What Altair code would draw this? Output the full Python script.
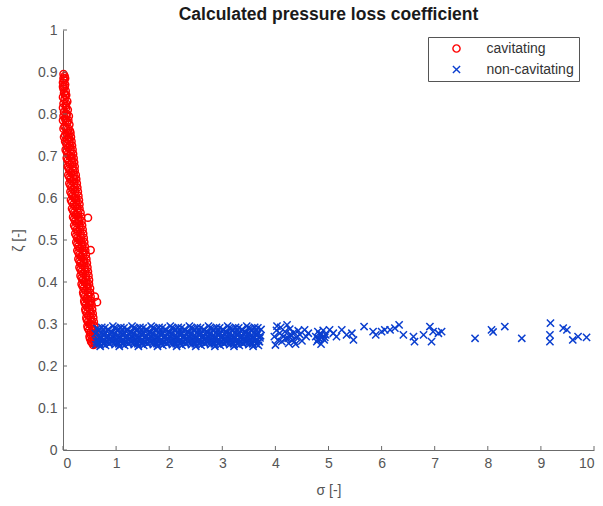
import altair as alt
import pandas as pd

# ---------------- data ----------------
cav_sigma = [
    0.01, 0.03, 0.02, 0.00, 0.04, 0.01, 0.05, 0.02, 0.00, 0.06,
    0.03, 0.08, 0.01, 0.05, 0.09, 0.02, 0.07, 0.11, 0.04, 0.00,
    0.08, 0.12, 0.03, 0.06, 0.13, 0.10, 0.04, 0.15, 0.08, 0.12,
    0.06, 0.17, 0.10, 0.14, 0.07, 0.19, 0.12, 0.16, 0.09, 0.21,
    0.13, 0.18, 0.11, 0.22, 0.15, 0.20, 0.12, 0.25, 0.17, 0.21,
    0.14, 0.27, 0.19, 0.23, 0.16, 0.29, 0.21, 0.25, 0.17, 0.31,
    0.23, 0.27, 0.19, 0.33, 0.24, 0.29, 0.21, 0.47, 0.35, 0.26,
    0.31, 0.23, 0.37, 0.28, 0.33, 0.25, 0.39, 0.30, 0.35, 0.27,
    0.41, 0.32, 0.52, 0.37, 0.29, 0.43, 0.34, 0.39, 0.31, 0.45,
    0.36, 0.41, 0.33, 0.47, 0.38, 0.43, 0.35, 0.49, 0.40, 0.45,
    0.37, 0.51, 0.42, 0.47, 0.39, 0.60, 0.52, 0.44, 0.48, 0.64,
    0.41, 0.54, 0.46, 0.50, 0.43, 0.56, 0.48, 0.52, 0.45, 0.58,
    0.50, 0.54, 0.47, 0.60, 0.52, 0.56, 0.50, 0.62, 0.55, 0.58,
    0.53, 0.61, 0.57, 0.60,
    0.01, 0.04, 0.03, 0.00, 0.04, 0.06, 0.00, 0.06, 0.01, 0.06,
    0.10, 0.05, 0.01, 0.10, 0.14, 0.07, 0.02, 0.11, 0.04, 0.16,
    0.08, 0.13, 0.05, 0.18, 0.09, 0.15, 0.07, 0.20, 0.11, 0.17,
    0.09, 0.22, 0.13, 0.19, 0.10, 0.24, 0.14, 0.21, 0.12, 0.26,
    0.16, 0.22, 0.14, 0.28, 0.18, 0.24, 0.15, 0.30, 0.20, 0.26,
    0.17, 0.31, 0.21, 0.28, 0.19, 0.34, 0.23, 0.30, 0.21, 0.36,
    0.26, 0.32, 0.23, 0.38, 0.27, 0.34, 0.25, 0.40, 0.29, 0.36,
    0.27, 0.42, 0.31, 0.38, 0.29, 0.44, 0.33, 0.40, 0.31, 0.46,
    0.35, 0.42, 0.33, 0.48, 0.37, 0.44, 0.35, 0.49, 0.39, 0.46,
    0.38, 0.51, 0.41, 0.48, 0.40, 0.53, 0.43, 0.50, 0.42, 0.55,
    0.45, 0.52, 0.44, 0.57, 0.47, 0.54, 0.46, 0.59, 0.49, 0.56,
    0.52, 0.60, 0.51, 0.60, 0.55, 0.63,
]
cav_zeta = [
    0.895, 0.890, 0.880, 0.875, 0.870, 0.860, 0.855, 0.850, 0.840, 0.845,
    0.835, 0.830, 0.825, 0.820, 0.810, 0.805, 0.800, 0.795, 0.790, 0.785,
    0.780, 0.775, 0.770, 0.765, 0.760, 0.755, 0.750, 0.745, 0.740, 0.735,
    0.730, 0.725, 0.720, 0.715, 0.710, 0.705, 0.700, 0.695, 0.690, 0.685,
    0.680, 0.675, 0.670, 0.665, 0.660, 0.655, 0.650, 0.645, 0.640, 0.635,
    0.630, 0.625, 0.620, 0.615, 0.610, 0.605, 0.600, 0.595, 0.590, 0.585,
    0.580, 0.575, 0.570, 0.565, 0.560, 0.555, 0.550, 0.553, 0.545, 0.540,
    0.535, 0.530, 0.525, 0.520, 0.515, 0.510, 0.505, 0.500, 0.495, 0.490,
    0.485, 0.480, 0.476, 0.475, 0.470, 0.465, 0.460, 0.455, 0.450, 0.445,
    0.440, 0.435, 0.430, 0.425, 0.420, 0.415, 0.410, 0.405, 0.400, 0.395,
    0.390, 0.385, 0.380, 0.375, 0.370, 0.365, 0.365, 0.360, 0.355, 0.352,
    0.350, 0.345, 0.340, 0.335, 0.330, 0.325, 0.320, 0.315, 0.310, 0.305,
    0.300, 0.295, 0.290, 0.285, 0.280, 0.275, 0.270, 0.268, 0.265, 0.260,
    0.258, 0.255, 0.250, 0.252,
    0.885, 0.885, 0.865, 0.865, 0.845, 0.825, 0.815, 0.815, 0.795, 0.795,
    0.785, 0.785, 0.765, 0.765, 0.755, 0.755, 0.745, 0.745, 0.735, 0.735,
    0.725, 0.725, 0.715, 0.715, 0.705, 0.705, 0.695, 0.695, 0.685, 0.685,
    0.675, 0.675, 0.665, 0.665, 0.655, 0.655, 0.645, 0.645, 0.635, 0.635,
    0.625, 0.625, 0.615, 0.615, 0.605, 0.605, 0.595, 0.595, 0.585, 0.585,
    0.575, 0.575, 0.565, 0.565, 0.555, 0.555, 0.545, 0.545, 0.535, 0.535,
    0.525, 0.525, 0.515, 0.515, 0.505, 0.505, 0.495, 0.495, 0.485, 0.485,
    0.475, 0.475, 0.465, 0.465, 0.455, 0.455, 0.445, 0.445, 0.435, 0.435,
    0.425, 0.425, 0.415, 0.415, 0.405, 0.405, 0.395, 0.395, 0.385, 0.385,
    0.375, 0.375, 0.365, 0.365, 0.355, 0.355, 0.345, 0.345, 0.335, 0.335,
    0.325, 0.325, 0.315, 0.315, 0.305, 0.305, 0.295, 0.295, 0.285, 0.285,
    0.275, 0.275, 0.265, 0.265, 0.255, 0.255,
]

noncav_sigma = [
    0.62, 0.65, 0.61, 0.64, 0.68, 0.71, 0.67, 0.70,
    0.74, 0.77, 0.73, 0.76, 0.80, 0.83, 0.79, 0.82,
    0.86, 0.89, 0.85, 0.88, 0.92, 0.95, 0.91, 0.94,
    0.98, 1.01, 0.97, 1.00, 1.04, 1.07, 1.03, 1.06,
    1.10, 1.13, 1.09, 1.12, 1.16, 1.19, 1.15, 1.18,
    1.22, 1.25, 1.21, 1.24, 1.28, 1.31, 1.27, 1.30,
    1.34, 1.37, 1.33, 1.36, 1.40, 1.43, 1.39, 1.42,
    1.46, 1.49, 1.45, 1.48, 1.52, 1.55, 1.51, 1.54,
    1.58, 1.61, 1.57, 1.60, 1.64, 1.67, 1.63, 1.66,
    1.70, 1.73, 1.69, 1.72, 1.76, 1.79, 1.75, 1.78,
    1.82, 1.85, 1.81, 1.84, 1.88, 1.91, 1.87, 1.90,
    1.94, 1.97, 1.93, 1.96, 2.00, 2.03, 1.99, 2.02,
    2.06, 2.09, 2.05, 2.08, 2.12, 2.15, 2.11, 2.14,
    2.18, 2.21, 2.17, 2.20, 2.24, 2.27, 2.23, 2.26,
    2.30, 2.33, 2.29, 2.32, 2.36, 2.39, 2.35, 2.38,
    2.42, 2.45, 2.41, 2.44, 2.48, 2.51, 2.47, 2.50,
    2.54, 2.57, 2.53, 2.56, 2.60, 2.63, 2.59, 2.62,
    2.66, 2.69, 2.65, 2.68, 2.72, 2.75, 2.71, 2.74,
    2.78, 2.81, 2.77, 2.80, 2.84, 2.87, 2.83, 2.86,
    2.90, 2.93, 2.89, 2.92, 2.96, 2.99, 2.95, 2.98,
    3.02, 3.05, 3.01, 3.04, 3.08, 3.11, 3.07, 3.10,
    3.14, 3.17, 3.13, 3.16, 3.20, 3.23, 3.19, 3.22,
    3.26, 3.29, 3.25, 3.28, 3.32, 3.35, 3.31, 3.34,
    3.38, 3.41, 3.37, 3.40, 3.44, 3.47, 3.43, 3.46,
    3.50, 3.53, 3.49, 3.52, 3.56, 3.59, 3.55, 3.58,
    3.62, 3.65, 3.61, 3.64, 3.68, 3.71, 3.67, 3.70,
    # second pass through the dense band
    0.63, 0.66, 0.67, 0.69, 0.72, 0.73,
    0.75, 0.78, 0.79, 0.81, 0.84, 0.85,
    0.87, 0.90, 0.91, 0.93, 0.96, 0.97,
    0.99, 1.02, 1.03, 1.05, 1.08, 1.09,
    1.11, 1.14, 1.15, 1.17, 1.20, 1.21,
    1.23, 1.26, 1.27, 1.29, 1.32, 1.33,
    1.35, 1.38, 1.39, 1.41, 1.44, 1.45,
    1.47, 1.50, 1.51, 1.53, 1.56, 1.57,
    1.59, 1.62, 1.63, 1.65, 1.68, 1.69,
    1.71, 1.74, 1.75, 1.77, 1.80, 1.81,
    1.83, 1.86, 1.87, 1.89, 1.92, 1.93,
    1.95, 1.98, 1.99, 2.01, 2.04, 2.05,
    2.07, 2.10, 2.11, 2.13, 2.16, 2.17,
    2.19, 2.22, 2.23, 2.25, 2.28, 2.29,
    2.31, 2.34, 2.35, 2.37, 2.40, 2.41,
    2.43, 2.46, 2.47, 2.49, 2.52, 2.53,
    2.55, 2.58, 2.59, 2.61, 2.64, 2.65,
    2.67, 2.70, 2.71, 2.73, 2.76, 2.77,
    2.79, 2.82, 2.83, 2.85, 2.88, 2.89,
    2.91, 2.94, 2.95, 2.97, 3.00, 3.01,
    3.03, 3.06, 3.07, 3.09, 3.12, 3.13,
    3.15, 3.18, 3.19, 3.21, 3.24, 3.25,
    3.27, 3.30, 3.31, 3.33, 3.36, 3.37,
    3.39, 3.42, 3.43, 3.45, 3.48, 3.49,
    3.51, 3.54, 3.55, 3.57, 3.60, 3.61,
    3.63, 3.66, 3.67, 3.69, 3.72, 3.73,
    # cluster around 4 - 4.65
    3.98, 4.00, 4.02, 4.05, 4.08, 4.10, 4.12, 4.15, 4.18, 4.20,
    4.22, 4.25, 4.27, 4.30, 4.32, 4.35, 4.38, 4.40, 4.43, 4.46,
    4.50, 4.55, 4.58, 4.62, 4.03, 4.24, 4.28, 4.36,
    # cluster around 4.8 - 5.5
    4.76, 4.78, 4.80, 4.82, 4.84, 4.86, 4.88, 4.90, 4.92, 4.95,
    4.80, 4.87, 4.93, 5.02, 5.09, 5.15, 5.25, 5.34, 5.44, 5.47,
    # sparse points beyond 5.5
    5.67, 5.84, 5.89, 6.00, 6.06, 6.16, 6.25, 6.33, 6.41, 6.60,
    6.62, 6.79, 6.91, 6.97, 6.94, 7.07, 7.13, 7.76, 8.07, 8.10,
    8.32, 8.64, 9.18, 9.17, 9.17, 9.42, 9.49, 9.60, 9.70, 9.86,
]
noncav_zeta = [
    0.251, 0.264, 0.277, 0.289, 0.256, 0.270, 0.283, 0.247,
    0.260, 0.273, 0.292, 0.253, 0.249, 0.267, 0.280, 0.258,
    0.262, 0.275, 0.286, 0.254, 0.257, 0.269, 0.282, 0.295,
    0.251, 0.264, 0.277, 0.289, 0.256, 0.270, 0.283, 0.247,
    0.260, 0.273, 0.292, 0.253, 0.249, 0.267, 0.280, 0.258,
    0.262, 0.275, 0.286, 0.254, 0.257, 0.269, 0.282, 0.295,
    0.251, 0.264, 0.277, 0.289, 0.256, 0.270, 0.283, 0.247,
    0.260, 0.273, 0.292, 0.253, 0.249, 0.267, 0.280, 0.258,
    0.262, 0.275, 0.286, 0.254, 0.257, 0.269, 0.282, 0.295,
    0.251, 0.264, 0.277, 0.289, 0.256, 0.270, 0.283, 0.247,
    0.260, 0.273, 0.292, 0.253, 0.249, 0.267, 0.280, 0.258,
    0.262, 0.275, 0.286, 0.254, 0.257, 0.269, 0.282, 0.295,
    0.251, 0.264, 0.277, 0.289, 0.256, 0.270, 0.283, 0.247,
    0.260, 0.273, 0.292, 0.253, 0.249, 0.267, 0.280, 0.258,
    0.262, 0.275, 0.286, 0.254, 0.257, 0.269, 0.282, 0.295,
    0.251, 0.264, 0.277, 0.289, 0.256, 0.270, 0.283, 0.247,
    0.260, 0.273, 0.292, 0.253, 0.249, 0.267, 0.280, 0.258,
    0.262, 0.275, 0.286, 0.254, 0.257, 0.269, 0.282, 0.295,
    0.251, 0.264, 0.277, 0.289, 0.256, 0.270, 0.283, 0.247,
    0.260, 0.273, 0.292, 0.253, 0.249, 0.267, 0.280, 0.258,
    0.262, 0.275, 0.286, 0.254, 0.257, 0.269, 0.282, 0.295,
    0.251, 0.264, 0.277, 0.289, 0.256, 0.270, 0.283, 0.247,
    0.260, 0.273, 0.292, 0.253, 0.249, 0.267, 0.280, 0.258,
    0.262, 0.275, 0.286, 0.254, 0.257, 0.269, 0.282, 0.295,
    0.251, 0.264, 0.277, 0.289, 0.256, 0.270, 0.283, 0.247,
    0.260, 0.273, 0.292, 0.253, 0.249, 0.267, 0.280, 0.258,
    # second pass through the dense band
    0.258, 0.272, 0.287, 0.253, 0.266, 0.279,
    0.261, 0.276, 0.291, 0.258, 0.272, 0.287,
    0.253, 0.266, 0.279, 0.261, 0.276, 0.291,
    0.258, 0.272, 0.287, 0.253, 0.266, 0.279,
    0.261, 0.276, 0.291, 0.258, 0.272, 0.287,
    0.253, 0.266, 0.279, 0.261, 0.276, 0.291,
    0.258, 0.272, 0.287, 0.253, 0.266, 0.279,
    0.261, 0.276, 0.291, 0.258, 0.272, 0.287,
    0.253, 0.266, 0.279, 0.261, 0.276, 0.291,
    0.258, 0.272, 0.287, 0.253, 0.266, 0.279,
    0.261, 0.276, 0.291, 0.258, 0.272, 0.287,
    0.253, 0.266, 0.279, 0.261, 0.276, 0.291,
    0.258, 0.272, 0.287, 0.253, 0.266, 0.279,
    0.261, 0.276, 0.291, 0.258, 0.272, 0.287,
    0.253, 0.266, 0.279, 0.261, 0.276, 0.291,
    0.258, 0.272, 0.287, 0.253, 0.266, 0.279,
    0.261, 0.276, 0.291, 0.258, 0.272, 0.287,
    0.253, 0.266, 0.279, 0.261, 0.276, 0.291,
    0.258, 0.272, 0.287, 0.253, 0.266, 0.279,
    0.261, 0.276, 0.291, 0.258, 0.272, 0.287,
    0.253, 0.266, 0.279, 0.261, 0.276, 0.291,
    0.258, 0.272, 0.287, 0.253, 0.266, 0.279,
    0.261, 0.276, 0.291, 0.258, 0.272, 0.287,
    0.253, 0.266, 0.279, 0.261, 0.276, 0.291,
    0.258, 0.272, 0.287, 0.253, 0.266, 0.279,
    0.261, 0.276, 0.291, 0.258, 0.272, 0.287,
    # cluster around 4 - 4.65
    0.270, 0.250, 0.285, 0.262, 0.278, 0.292, 0.258, 0.270, 0.282, 0.266,
    0.298, 0.254, 0.288, 0.272, 0.262, 0.280, 0.252, 0.268, 0.284, 0.275,
    0.260, 0.286, 0.270, 0.278, 0.295, 0.266, 0.276, 0.258,
    # cluster around 4.8 - 5.5
    0.270, 0.258, 0.282, 0.265, 0.275, 0.252, 0.268, 0.285, 0.262, 0.274,
    0.262, 0.276, 0.268, 0.286, 0.278, 0.270, 0.286, 0.274, 0.278, 0.262,
    # sparse points beyond 5.5
    0.294, 0.282, 0.274, 0.282, 0.286, 0.286, 0.290, 0.298, 0.274, 0.270,
    0.258, 0.274, 0.294, 0.282, 0.258, 0.278, 0.282, 0.266, 0.286, 0.281,
    0.294, 0.266, 0.302, 0.274, 0.258, 0.290, 0.286, 0.262, 0.270, 0.268,
]

categories = ["cavitating", "non-cavitating"]
x_tick_values = [0, 1, 2, 3, 4, 5, 6, 7, 8, 9, 10]
y_tick_values = [0, 0.1, 0.2, 0.3, 0.4, 0.5, 0.6, 0.7, 0.8, 0.9, 1]

# ---------------- build tables ----------------
points = pd.DataFrame({
    "sigma": cav_sigma + noncav_sigma,
    "zeta": cav_zeta + noncav_zeta,
    "state": [categories[0]] * len(cav_sigma) + [categories[1]] * len(noncav_sigma),
})
xt = pd.DataFrame({"sigma": x_tick_values})
yt = pd.DataFrame({"zeta": y_tick_values})

W, H = 531, 420
FONT = "Liberation Sans"
AXIS_GRAY = "#6b6b6b"
LABEL_GRAY = "#555555"
BLUE = "#0a3ecf"
RED = "#ff0000"

xscale = alt.Scale(domain=[0, 10], nice=False, zero=False)
yscale = alt.Scale(domain=[0, 1], nice=False, zero=False)
xaxis = alt.Axis(values=x_tick_values, format="d", title="σ [-]",
                 grid=False, tickSize=0, labelPadding=6, titlePadding=13)
yaxis = alt.Axis(values=y_tick_values, format="~g", title="ζ [-]",
                 grid=False, tickSize=0, labelPadding=6, titlePadding=12)

X_SHAPE = "M-1,-1L1,1M-1,1L1,-1"
leg = alt.Legend(title=None, orient="none", legendX=365, legendY=7)

pts = alt.Chart(points).mark_point(filled=False, strokeWidth=1.5, opacity=1).encode(
    x=alt.X("sigma:Q", scale=xscale, axis=xaxis),
    y=alt.Y("zeta:Q", scale=yscale, axis=yaxis),
    color=alt.Color("state:N",
                    scale=alt.Scale(domain=categories, range=[RED, BLUE]),
                    legend=leg),
    shape=alt.Shape("state:N",
                    scale=alt.Scale(domain=categories, range=["circle", X_SHAPE]),
                    legend=leg),
    size=alt.value(52),
    order=alt.Order("state:N"),
)

xticks = alt.Chart(xt).mark_rule(color=AXIS_GRAY, strokeWidth=1).encode(
    x=alt.X("sigma:Q", scale=xscale, axis=xaxis),
    y=alt.value(H),
    y2=alt.value(H - 4),
)
yticks = alt.Chart(yt).mark_rule(color=AXIS_GRAY, strokeWidth=1).encode(
    y=alt.Y("zeta:Q", scale=yscale, axis=yaxis),
    x=alt.value(0),
    x2=alt.value(4),
)

chart = alt.layer(pts, xticks, yticks).properties(
    width=W,
    height=H,
    title=alt.TitleParams("Calculated pressure loss coefficient", font=FONT,
                          fontSize=17.5, fontWeight="bold", color="#1a1a1a",
                          anchor="middle", offset=0),
    autosize=alt.AutoSizeParams(type="none"),
    padding={"left": 63, "top": 30, "right": 9, "bottom": 56},
).configure_view(
    stroke="transparent"
).configure_axis(
    domainColor=AXIS_GRAY,
    domainWidth=1,
    labelFont=FONT,
    labelFontSize=14,
    labelColor=LABEL_GRAY,
    titleFont=FONT,
    titleFontSize=14,
    titleFontWeight="normal",
    titleColor=LABEL_GRAY,
).configure_legend(
    labelFont=FONT,
    labelFontSize=14,
    labelColor="#333333",
    strokeColor="#555555",
    strokeWidth=1,
    fillColor="white",
    padding=4.5,
    rowPadding=7,
    symbolSize=52,
    symbolStrokeWidth=1.4,
    symbolOffset=17,
    labelOffset=23,
)

chart.save("out.html", embed_options={"renderer": "svg", "actions": False})
